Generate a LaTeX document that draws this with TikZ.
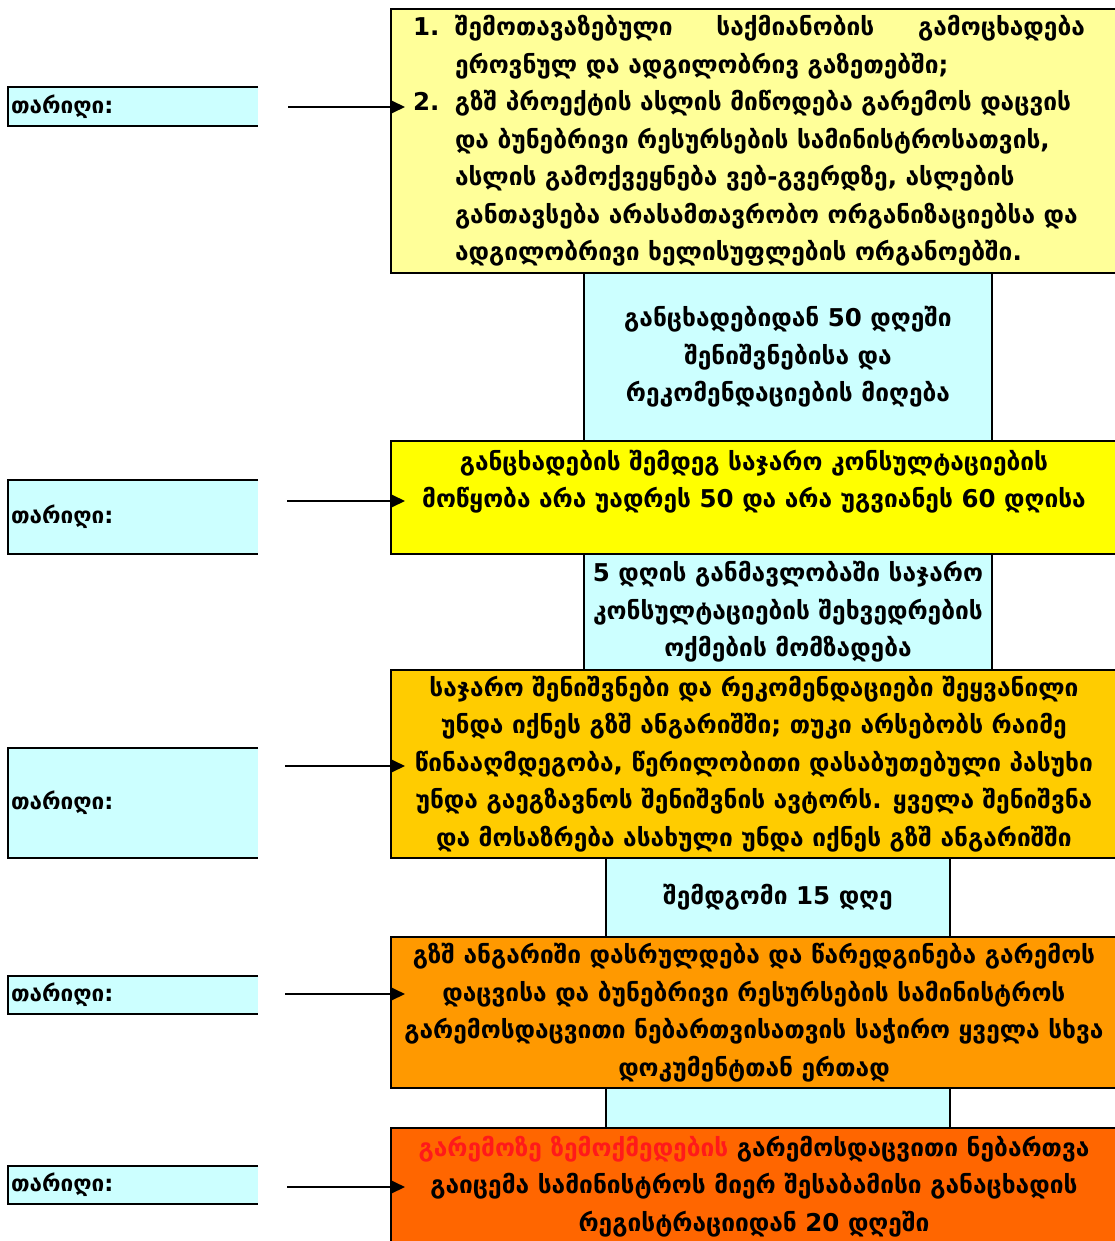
\documentclass[tikz,border=0pt]{standalone}
\usepackage{fontspec}
\setmainfont{DejaVu Sans}
\usetikzlibrary{arrows.meta}
\definecolor{bxA}{HTML}{FFFF99}
\definecolor{bxB}{HTML}{FFFF00}
\definecolor{bxC}{HTML}{FFCC00}
\definecolor{bxD}{HTML}{FF9900}
\definecolor{bxE}{HTML}{FF6600}
\definecolor{cyanbg}{HTML}{CCFFFF}
\definecolor{redtxt}{HTML}{FF1A1A}
\newcommand{\geofont}{\fontsize{24.5}{37.5}\selectfont\bfseries}
\newcommand{\datefont}{\fontsize{22.5}{30}\selectfont\bfseries}
\begin{document}
\begin{tikzpicture}[x=1pt,y=-1pt,
  mainbox/.style={draw=black, line width=2.5pt, minimum width=726pt, inner sep=0pt, align=center, font=\geofont},
  linkbox/.style={draw=black, line width=2pt, fill=cyanbg, inner sep=0pt, align=center, font=\geofont},
  datebox/.style={fill=cyanbg, minimum width=250pt, inner sep=0pt, font=\datefont},
  dateedge/.style={line width=2.5pt},
  arr/.style={line width=2pt, -{Triangle[length=13pt,width=12pt]}}
]
\useasboundingbox (0,0) rectangle (1115,1241);
\clip (0,0) rectangle (1115,1241);
\fill[white] (0,0) rectangle (1115,1241);

% link boxes
\node[linkbox, minimum width=408pt, minimum height=168pt] (c1) at (788,357)
  {განცხადებიდან 50 დღეში\\შენიშვნებისა და\\რეკომენდაციების მიღება};
\node[linkbox, minimum width=408pt, minimum height=116pt] (c2) at (788,612)
  {5 დღის განმავლობაში საჯარო\\კონსულტაციების შეხვედრების\\ოქმების მომზადება};
\node[linkbox, minimum width=344pt, minimum height=79pt] (c3) at (778,897.5)
  {შემდგომი 15 დღე};
\node[linkbox, minimum width=344pt, minimum height=40pt] (c4) at (778,1108) {};

% main boxes
\node[mainbox, fill=bxA, minimum height=264pt] (b1) at (754,141)
  {\makebox[682pt][l]{\geofont\begin{tabular}{@{}p{42pt}@{}l@{}}
   1. & \makebox[630pt][s]{შემოთავაზებული საქმიანობის გამოცხადება}\\
      & ეროვნულ და ადგილობრივ გაზეთებში;\\
   2. & გზშ პროექტის ასლის მიწოდება გარემოს დაცვის\\
      & და ბუნებრივი რესურსების სამინისტროსათვის,\\
      & ასლის გამოქვეყნება ვებ-გვერდზე, ასლების\\
      & განთავსება არასამთავრობო ორგანიზაციებსა და\\
      & ადგილობრივი ხელისუფლების ორგანოებში.
  \end{tabular}}};
\node[mainbox, fill=bxB, minimum height=113pt] (b2) at (754,497.5)
  {განცხადების შემდეგ საჯარო კონსულტაციების\\მოწყობა არა უადრეს 50 და არა უგვიანეს 60 დღისა\\\mbox{}};
\node[mainbox, fill=bxC, minimum height=188pt] (b3) at (754,764)
  {საჯარო შენიშვნები და რეკომენდაციები შეყვანილი\\
   უნდა იქნეს გზშ ანგარიშში; თუკი არსებობს რაიმე\\
   წინააღმდეგობა, წერილობითი დასაბუთებული პასუხი\\
   უნდა გაეგზავნოს შენიშვნის ავტორს. ყველა შენიშვნა\\
   და მოსაზრება ასახული უნდა იქნეს გზშ ანგარიშში};
\node[mainbox, fill=bxD, minimum height=151pt] (b4) at (754,1012.5)
  {გზშ ანგარიში დასრულდება და წარედგინება გარემოს\\
   დაცვისა და ბუნებრივი რესურსების სამინისტროს\\
   გარემოსდაცვითი ნებართვისათვის საჭირო ყველა სხვა\\
   დოკუმენტთან ერთად};
\node[mainbox, fill=bxE, minimum height=117pt] (b5) at (754,1186.5)
  {{\color{redtxt}გარემოზე ზემოქმედების} გარემოსდაცვითი ნებართვა\\
   გაიცემა სამინისტროს მიერ შესაბამისი განაცხადის\\
   რეგისტრაციიდან 20 დღეში};

% date boxes
\foreach \n/\yc/\h in {1/106.5/39, 2/517/74, 3/803/110, 4/995/38, 5/1185/38}{
  \node[datebox, minimum height=\h pt] (d\n) at (133,\yc) {\makebox[244pt][l]{თარიღი:}};
  \draw[dateedge] (d\n.north east) -| (d\n.south west) -- (d\n.south east);
}

% arrows
\coordinate (s1) at (288,107);  \coordinate (e1) at (405,107);
\coordinate (s2) at (287,501);  \coordinate (e2) at (405,501);
\coordinate (s3) at (285,766);  \coordinate (e3) at (405,766);
\coordinate (s4) at (285,994);  \coordinate (e4) at (405,994);
\coordinate (s5) at (287,1187); \coordinate (e5) at (405,1187);
\foreach \n in {1,...,5}{ \draw[arr] (s\n) -- (e\n); }
\end{tikzpicture}
\end{document}
